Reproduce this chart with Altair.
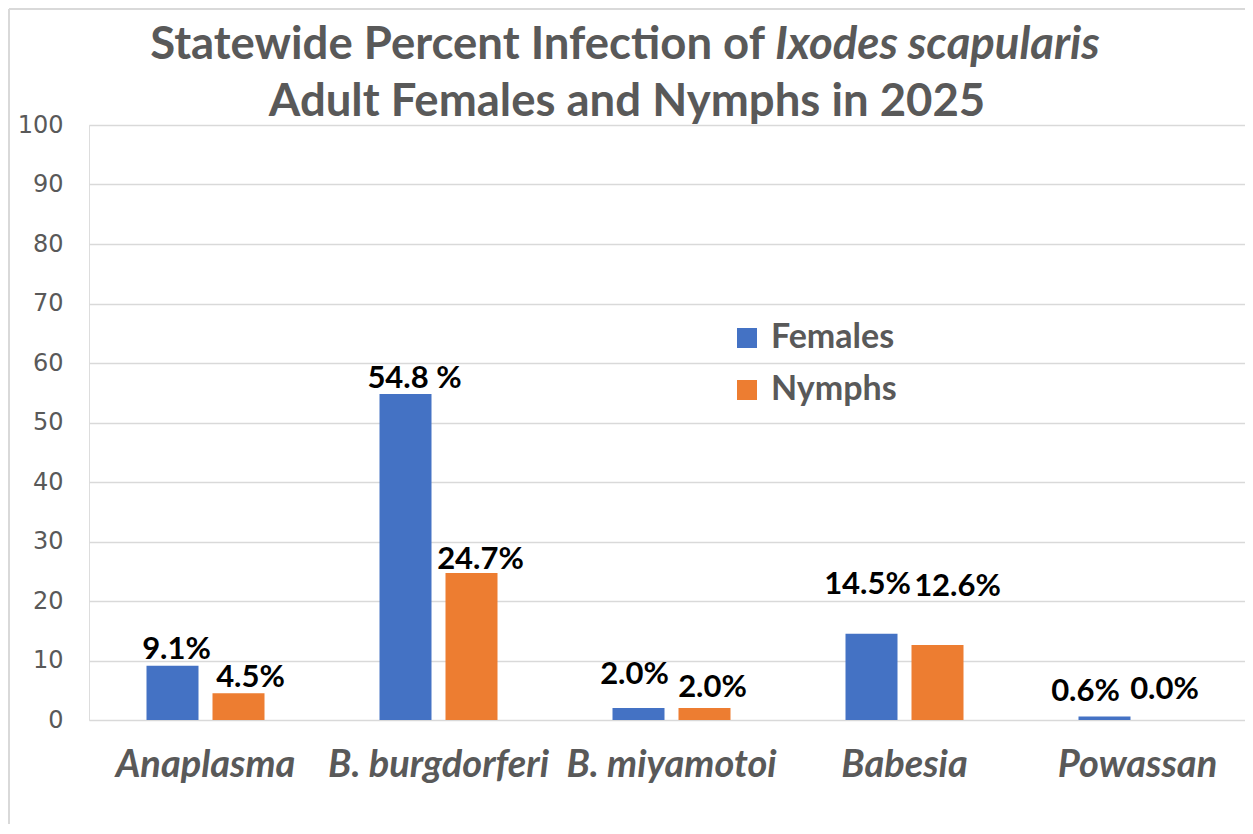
import altair as alt
import pandas as pd

categories = ["Anaplasma", "B. burgdorferi", "B. miyamotoi", "Babesia", "Powassan"]
females = [9.1, 54.8, 2.0, 14.5, 0.6]
nymphs = [4.5, 24.7, 2.0, 12.6, 0.0]
female_labels = ["9.1%", "54.8 %", "2.0%", "14.5%", "0.6%"]
nymph_labels = ["4.5%", "24.7%", "2.0%", "12.6%", "0.0%"]
series = ["Females", "Nymphs"]
colors = ["#4472C4", "#ED7D31"]

# label placement relative to each bar (pixels), as placed in the original
female_lift = [16, 15, 33, 49, 24]
nymph_lift = [15, 13, 20, 58, 30]
female_nudge = [4, 9, -4, -4, -19]
nymph_nudge = [12, 9, 8, 20, -6]

BAR_W, BAR_GAP = 52, 14
rows = []
for i, c in enumerate(categories):
    rows.append({"cat": c, "series": "Females", "value": females[i], "label": female_labels[i],
                 "lift": female_lift[i], "ox": BAR_W / 2 + female_nudge[i]})
    rows.append({"cat": c, "series": "Nymphs", "value": nymphs[i], "label": nymph_labels[i],
                 "lift": nymph_lift[i], "ox": BAR_W + BAR_GAP + BAR_W / 2 + nymph_nudge[i]})
df = pd.DataFrame(rows)

W, H = 1156, 595
BOTTOM = 104
PX_PER_UNIT = H / 100.0
GRAY = "#595959"
STEP = 233
GROUP = 2 * BAR_W + BAR_GAP
PI = 1 - GROUP / STEP

x_enc = alt.X("cat:N", sort=categories, title=None,
              scale=alt.Scale(range=[0, STEP * len(categories)], paddingInner=PI, paddingOuter=PI / 2),
              axis=alt.Axis(labelAngle=0, labelFont="Lato", labelFontSize=38, labelFontStyle="italic",
                            labelFontWeight="bold", labelColor=GRAY, labelPadding=26, labelLimit=0,
                            labelOverlap=False, domain=False, ticks=False, grid=False))
y_enc = alt.Y("value:Q", title=None,
              scale=alt.Scale(domain=[0, 100], nice=False),
              axis=alt.Axis(values=list(range(0, 101, 10)), labelFont="DejaVu Sans", labelFontSize=24,
                            labelColor=GRAY, labelPadding=26, domain=False, ticks=False,
                            gridColor="#D9D9D9", gridWidth=1.5))
xo = alt.XOffset("series:N", sort=series,
                 scale=alt.Scale(paddingInner=BAR_GAP / (BAR_W + BAR_GAP), paddingOuter=0))

bars = alt.Chart(df).mark_bar().encode(
    x=x_enc, y=y_enc, xOffset=xo,
    color=alt.Color("series:N", sort=series, scale=alt.Scale(domain=series, range=colors),
                    legend=alt.Legend(title=None, orient="none", legendX=641, legendY=196,
                                      symbolType="square", symbolSize=400, symbolStrokeWidth=0,
                                      labelFont="Lato", labelFontSize=34, labelFontWeight="bold",
                                      labelColor=GRAY, labelOffset=7, rowPadding=18)),
)

labels = alt.Chart(df).transform_calculate(
    ly=f"datum.value + datum.lift / {PX_PER_UNIT}"
).mark_text(font="Lato", fontSize=31, fontWeight="bold", color="black", baseline="middle").encode(
    x=alt.X("cat:N", sort=categories),
    y=alt.Y("ly:Q"),
    xOffset=alt.XOffset("ox:Q", scale=None),
    text="label:N",
)

title_style = dict(font="Lato", fontSize=45.5, fontWeight="bold", color=GRAY, baseline="middle")
t1a = alt.Chart(pd.DataFrame({"t": ["Statewide Percent Infection of"]})).mark_text(
    align="right", **title_style).encode(x=alt.value(676), y=alt.value(-80), text="t:N")
t1b = alt.Chart(pd.DataFrame({"t": ["Ixodes scapularis"]})).mark_text(
    align="left", fontStyle="italic", **title_style).encode(x=alt.value(686), y=alt.value(-80), text="t:N")
t2 = alt.Chart(pd.DataFrame({"t": ["Adult Females and Nymphs in 2025"]})).mark_text(
    align="center", **title_style).encode(x=alt.value(538), y=alt.value(-23), text="t:N")

# chart frame (top and left edges visible in the original)
frame_df = pd.DataFrame({"edge": ["top", "left"]})
frame_top = alt.Chart(frame_df.iloc[:1]).mark_rule(color="#D9D9D9", strokeWidth=2).encode(
    x=alt.value(-80), x2=alt.value(W), y=alt.value(-116))
frame_left = alt.Chart(frame_df.iloc[1:]).mark_rule(color="#D9D9D9", strokeWidth=2).encode(
    x=alt.value(-80), y=alt.value(-116), y2=alt.value(H + BOTTOM))

chart = alt.layer(frame_top, frame_left, bars, labels, t1a, t1b, t2).properties(
    width=W, height=H,
    autosize=alt.AutoSizeParams(type="none"),
    padding={"left": 81, "top": 117, "right": 0, "bottom": BOTTOM},
).configure_view(stroke=None).configure(background="white")

chart.save("out.html", embed_options={"renderer": "svg", "actions": False})
